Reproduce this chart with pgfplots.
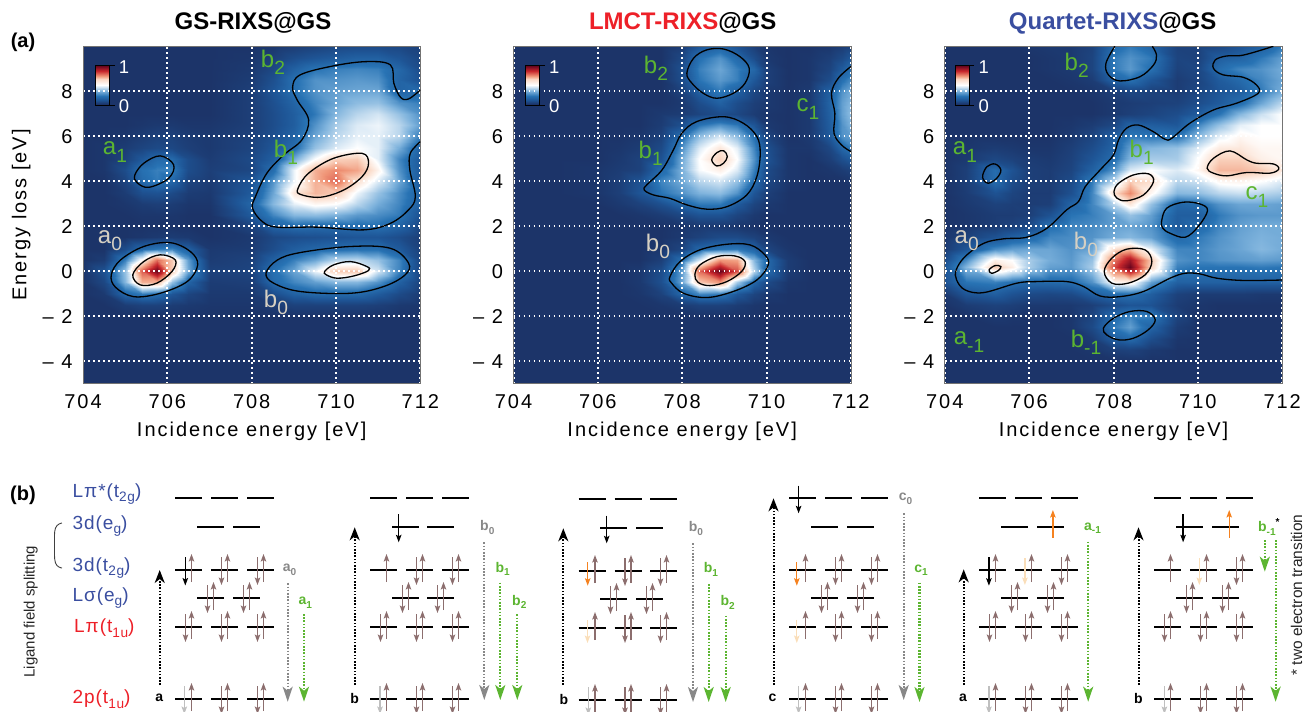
\documentclass[border=0pt]{standalone}
\usepackage{pgfplots}
\usepackage{pgfplotstable}
\usepackage{fontspec}
\pgfplotsset{compat=1.18}
\usetikzlibrary{arrows.meta}
\setmainfont{Liberation Sans}
\newfontfamily\ls[LetterSpace=10]{Liberation Sans}
\newfontfamily\lsb[LetterSpace=5]{Liberation Sans}
\newcommand\tk{\ls\fontsize{20}{22}\selectfont}
\newcommand\sbs[1]{\raisebox{-.3em}{\scalebox{.8}{#1}}}
\definecolor{cblue}{RGB}{58,78,160}
\definecolor{cred}{RGB}{237,32,40}
\definecolor{cgreen}{RGB}{92,181,49}
\definecolor{cbeige}{RGB}{214,208,195}
\definecolor{brownar}{RGB}{140,110,110}
\definecolor{cgray}{RGB}{136,136,136}
\definecolor{corange}{RGB}{245,130,32}
\definecolor{cpale}{RGB}{250,222,185}

\pgfplotstableread{
y 704 704.5 705 705.4 705.75 706.1 706.5 707 708 708.5 709 709.5 710 710.5 711 711.5 712
10 3 3 3 3 3 3 3 3 3 4 6 8 10 11 11 10 8
9.5 3 3 3 3 3 3 3 3 4 7 12 15 17 19 19 15 10
9 3 3 3 3 3 3 3 3 5 10 19 25 27 28 27 21 12
8.5 3 3 3 3 3 3 3 3 6 13 24 30 30 31 30 20 14
8 3 3 3 3 3 3 3 3 7 15 24 30 32 33 33 20 22
7.5 3 3 3 3 3 3 3 3 7 13 20 28 33 37 38 30 27
7 3 3 3 3 3 3 3 3 7 12 18 26 36 42 45 38 30
6.5 3 3 3 4 5 5 4 4 7 12 18 30 40 46 48 42 32
6 3 3 4 6 8 8 6 5 8 13 20 33 42 47 47 42 27
5.5 3 4 6 9 11 10 7 5 9 15 23 38 46 50 47 34 19
5 3 4 8 16 22 22 12 6 11 18 34 50 61 62 47 28 17
4.5 3 4 12 24 27 27 12 7 10 23 48 66 72 68 53 30 17
4 3 3 9 22 26 21 9 6 15 30 48 66 76 58 46 33 17
3.5 3 3 6 13 14 11 6 5 17 33 56 65 62 48 38 29 19
3 3 3 4 6 7 6 4 4 21 36 47 52 50 42 34 28 19
2.5 3 3 3 4 4 4 3 3 17 28 36 37 35 31 29 26 14
2 3 3 3 3 3 3 3 3 9 20 23 22 22 23 24 20 10
1.5 3 3 3 4 5 6 5 3 5 10 12 13 14 15 15 12 7
1 3 3 12 22 26 28 19 5 6 12 18 21 23 24 24 17 8
0.5 3 6 27 52 76 62 32 6 8 19 27 33 42 43 38 28 10
0 4 14 38 78 100 62 34 8 9 24 33 48 62 63 45 28 10
-0.5 3 10 36 66 66 38 20 6 7 22 28 32 36 36 30 19 9
-1 3 5 21 26 23 15 9 5 5 12 19 22 22 22 17 11 6
-1.5 3 3 6 8 8 6 5 4 4 6 8 8 8 8 7 5 4
-2 3 3 3 3 3 3 3 3 3 3 3 3 3 3 3 3 3
-2.5 3 3 3 3 3 3 3 3 3 3 3 3 3 3 3 3 3
-3 3 3 3 3 3 3 3 3 3 3 3 3 3 3 3 3 3
-3.5 3 3 3 3 3 3 3 3 3 3 3 3 3 3 3 3 3
-4 3 3 3 3 3 3 3 3 3 3 3 3 3 3 3 3 3
-4.5 3 3 3 3 3 3 3 3 3 3 3 3 3 3 3 3 3
-5 3 3 3 3 3 3 3 3 3 3 3 3 3 3 3 3 3
}\gridA
\pgfplotstableread{
y 704 705 706 706.5 707 707.5 708 708.4 708.9 709.3 709.7 710 710.5 711 711.5 711.8 712
10 3 3 3 3 3 3 6 15 20 14 7 4 3 3 4 6 8
9.5 3 3 3 3 3 3 10 24 30 22 12 5 3 4 7 11 16
9 3 3 3 3 3 3 13 27 33 27 21 7 3 4 9 17 24
8.5 3 3 3 3 3 3 12 25 31 27 16 7 3 4 12 24 29
8 3 3 3 3 3 3 8 19 26 19 10 5 3 5 19 30 34
7.5 3 3 3 3 3 3 5 12 19 12 7 5 3 5 20 32 36
7 3 3 3 3 3 5 6 9 12 10 6 4 3 5 19 32 37
6.5 3 3 3 3 3 6 13 25 30 26 15 5 3 5 18 30 35
6 3 3 3 3 4 8 23 37 45 37 24 9 3 5 17 30 32
5.5 3 3 3 4 6 11 30 46 56 47 28 13 4 4 10 21 26
5 3 3 3 5 8 14 34 50 61 50 30 14 4 3 7 13 17
4.5 3 3 4 6 8 22 35 49 54 46 27 11 4 3 4 6 8
4 3 3 4 7 14 28 34 42 45 38 23 10 4 3 3 3 4
3.5 3 3 4 7 15 25 30 35 37 30 15 7 3 3 3 3 3
3 3 3 3 5 8 13 21 26 26 17 9 5 3 3 3 3 3
2.5 3 3 3 3 4 6 10 14 14 9 5 3 3 3 3 3 3
2 3 3 3 3 3 3 4 5 5 4 3 3 3 3 3 3 3
1.5 3 3 3 3 3 3 5 8 11 11 8 5 3 3 3 3 3
1 3 3 3 3 3 4 9 21 25 26 20 9 4 3 3 3 3
0.5 3 3 3 3 3 7 24 45 70 68 36 22 6 3 3 3 3
0 3 3 3 3 5 12 32 76 100 80 42 22 6 3 3 3 3
-0.5 3 3 3 3 5 13 33 62 70 40 21 11 4 3 3 3 3
-1 3 3 3 3 4 8 21 28 26 16 9 5 3 3 3 3 3
-1.5 3 3 3 3 3 4 6 8 8 6 4 3 3 3 3 3 3
-2 3 3 3 3 3 3 3 3 3 3 3 3 3 3 3 3 3
-2.5 3 3 3 3 3 3 3 3 3 3 3 3 3 3 3 3 3
-3 3 3 3 3 3 3 3 3 3 3 3 3 3 3 3 3 3
-3.5 3 3 3 3 3 3 3 3 3 3 3 3 3 3 3 3 3
-4 3 3 3 3 3 3 3 3 3 3 3 3 3 3 3 3 3
-4.5 3 3 3 3 3 3 3 3 3 3 3 3 3 3 3 3 3
-5 3 3 3 3 3 3 3 3 3 3 3 3 3 3 3 3 3
}\gridB
\pgfplotstableread{
y 704 704.5 705.2 705.6 706 706.5 707 707.5 708 708.4 708.9 709.5 710 710.5 711 711.5 712
10 3 3 3 3 4 5 5 8 22 26 20 8 8 10 14 18 26
9.5 3 3 3 3 3 4 5 9 26 30 26 9 8 18 20 26 32
9 3 3 3 3 3 4 5 9 26 31 24 8 10 23 28 30 34
8.5 3 3 3 3 3 3 4 6 20 24 15 6 9 17 22 28 33
8 3 3 3 3 3 3 3 4 7 10 8 6 10 15 18 26 34
7.5 3 3 3 3 3 3 3 3 5 6 7 8 12 17 23 33 42
7 3 3 3 3 3 3 3 3 5 7 9 12 17 25 36 44 50
6.5 3 3 3 3 3 3 4 6 10 20 18 16 28 38 47 50 50
6 3 3 3 3 3 3 5 9 18 26 25 24 36 47 52 50 50
5.5 3 4 6 5 4 4 7 12 20 32 36 38 46 55 56 52 52
5 3 5 10 8 6 5 8 15 23 36 40 40 50 61 61 54 52
4.5 3 7 23 14 7 6 9 19 30 46 50 46 52 65 65 62 56
4 3 7 23 12 7 6 11 26 42 62 58 42 44 52 53 50 46
3.5 3 6 14 9 6 6 13 28 58 72 52 36 37 42 44 42 40
3 3 5 8 7 6 7 20 28 42 56 38 21 23 30 33 33 32
2.5 3 4 6 6 7 14 25 27 32 38 32 18 18 26 30 31 31
2 3 4 6 8 11 24 28 29 32 33 30 17 22 28 32 34 34
1.5 4 8 14 19 22 28 29 30 34 36 32 22 26 30 33 35 34
1 6 15 29 32 33 33 30 33 58 64 48 28 28 31 33 36 34
0.5 12 29 54 50 40 34 31 38 74 92 62 30 28 30 31 32 31
0.2 16 36 62 54 40 32 31 40 80 100 60 27 25 25 25 26 25
-0.5 14 25 27 24 22 22 23 30 52 54 32 19 19 19 19 19 19
-1 5 15 18 14 11 10 11 18 23 24 18 8 6 6 6 5 5
-1.5 3 6 8 7 5 5 5 7 12 15 14 6 4 3 3 3 3
-2 3 3 5 4 3 3 4 9 22 28 27 9 3 3 3 3 3
-2.5 3 3 3 3 3 3 4 11 26 32 20 6 3 3 3 3 3
-3 3 3 3 3 3 3 3 6 18 22 12 4 3 3 3 3 3
-3.5 3 3 3 3 3 3 3 4 7 8 5 3 3 3 3 3 3
-4 3 3 3 3 3 3 3 3 3 3 3 3 3 3 3 3 3
-4.5 3 3 3 3 3 3 3 3 3 3 3 3 3 3 3 3 3
-5 3 3 3 3 3 3 3 3 3 3 3 3 3 3 3 3 3
}\gridC

% long-form coordinate lists built from the small tables above
\newcommand{\makesurf}[3]{%
  \gdef#2{}%
  \foreach \r in {0,...,30}{%
    \pgfplotstablegetelem{\r}{[index]0}\of{#1}\let\yy\pgfplotsretval
    \foreach \xx [count=\c] in {#3}{%
      \pgfplotstablegetelem{\r}{[index]\c}\of{#1}\let\zz\pgfplotsretval
      \xdef#2{#2 (\xx,\yy,\zz)}%
    }%
  }%
}
\makesurf{\gridA}{\listA}{704,704.5,705,705.4,705.75,706.1,706.5,707,708,708.5,709,709.5,710,710.5,711,711.5,712}
\makesurf{\gridB}{\listB}{704,705,706,706.5,707,707.5,708,708.4,708.9,709.3,709.7,710,710.5,711,711.5,711.8,712}
\makesurf{\gridC}{\listC}{704,704.5,705.2,705.6,706,706.5,707,707.5,708,708.4,708.9,709.5,710,710.5,711,711.5,712}

% level positions in panel (b): left end of each bar, and row
\pgfplotstableread[row sep=\\]{x y\\
175 570\\211 570\\247 570\\197 598\\233 598\\175 627\\211 627\\247 627\\175 699\\211 699\\247 699\\
370 570\\406 570\\442 570\\392 598\\427 598\\370 627\\406 627\\442 627\\370 699\\406 699\\442 699\\
578.5 571\\614.5 571\\650 571\\600 599\\636 599\\578.5 628\\614.5 628\\650 628\\578.5 700\\614.5 700\\650 700\\
789 570\\825 570\\861 570\\811 598\\847 598\\789 627\\825 627\\861 627\\789 699\\825 699\\861 699\\
979 570\\1015 570\\1051 570\\1001 598\\1037 598\\979 627\\1015 627\\1051 627\\979 699\\1015 699\\1051 699\\
1154 570\\1190 570\\1226 570\\1176 598\\1212 598\\1154 627\\1190 627\\1226 627\\1154 699\\1190 699\\1226 699\\
}\occ
\pgfplotstableread[row sep=\\]{x y\\
175 498\\211 498\\247 498\\197 527\\233 527\\
370 498\\406 498\\442 498\\392 527\\427 527\\
578.5 499\\614.5 499\\650 499\\600 528\\636 528\\
789 498\\825 498\\861 498\\811 527\\847 527\\
979 498\\1015 498\\1051 498\\1001 527\\1037 527\\
1154 498\\1190 498\\1226 498\\1176 527\\1212 527\\
}\emp
\pgfplotstableread[row sep=\\]{x y\\
211 570\\247 570\\197 598\\233 598\\175 627\\211 627\\247 627\\211 699\\247 699\\
406 570\\442 570\\392 598\\427 598\\370 627\\406 627\\442 627\\406 699\\442 699\\
614.5 571\\650 571\\600 599\\636 599\\614.5 628\\650 628\\614.5 700\\650 700\\
825 570\\861 570\\811 598\\847 598\\825 627\\861 627\\825 699\\861 699\\
1051 570\\1001 598\\1037 598\\979 627\\1015 627\\1051 627\\1015 699\\1051 699\\
1226 570\\1176 598\\1212 598\\1154 627\\1190 627\\1226 627\\1190 699\\1226 699\\
}\dwn

\pgfplotsset{
  colormap={rb}{rgb255(0)=(22,40,90) rgb255(3)=(28,52,105) rgb255(15)=(30,85,150) rgb255(25)=(40,115,180) rgb255(35)=(125,178,220) rgb255(50)=(255,255,255) rgb255(60)=(250,215,195) rgb255(70)=(240,150,120) rgb255(85)=(200,40,45) rgb255(100)=(105,5,30)},
  heatax/.style={width=337.4pt,height=337.4pt,scale only axis,hide axis,view={0}{90},
    xmin=704,xmax=712,ymin=-5,ymax=10,point meta min=0,point meta max=100},
  heat/.style={surf,shader=interp,mesh/cols=17,point meta=z},
  lineax/.style={width=337.4pt,height=337.4pt,scale only axis,xmin=704,xmax=712,ymin=-5,ymax=10,
    xtick={704,706,708,710,712},xticklabels={704,706,708,710,712},
    ytick={-4,-2,0,2,4,6,8},yticklabels={{– 4},{– 2},0,2,4,6,8},
    major tick length=0pt,
    tick label style={font=\tk},
    xticklabel style={yshift=-7pt},
    yticklabel style={xshift=-7pt},
    grid=major,major grid style={white,line width=2pt,dash pattern=on 1.8pt off 3.2pt},
    axis line style={draw=black!55,line width=.8pt},
    xlabel={Incidence energy [eV]},
    xlabel style={font=\tk,at={(axis description cs:0.5,-0.14)},anchor=center},
    ylabel style={font=\tk,at={(axis description cs:-0.183,0.5)},anchor=center},
  },
  ctr/.style={black,line width=1.3pt,smooth cycle,tension=0.6},
  opn/.style={black,line width=1.3pt,smooth,tension=0.6},
  exc/.style={black,line width=2pt,dash pattern=on 1.6pt off 1.6pt,-{Stealth[length=13pt,width=10pt,inset=4pt]}},
  emgray/.style={cgray,line width=2pt,dash pattern=on 1.6pt off 1.6pt,-{Stealth[length=15pt,width=10pt,inset=4pt]}},
  emgreen/.style={cgreen,line width=2.2pt,dash pattern=on 1.6pt off 1.6pt,-{Stealth[length=15pt,width=10pt,inset=4pt]}},
  elec/.style={line width=1.25pt,-{Stealth[length=7.5pt,width=5.5pt,inset=1.5pt]}},
}
\newcommand\cbsurf[2]{\addplot3[surf,shader=interp,mesh/cols=2,point meta=z] coordinates {
 (#1,9.14,100)(#2,9.14,100) (#1,8.92,85)(#2,8.92,85) (#1,8.70,70)(#2,8.70,70) (#1,8.55,60)(#2,8.55,60)
 (#1,8.27,50)(#2,8.27,50) (#1,8.00,35)(#2,8.00,35) (#1,7.80,25)(#2,7.80,25) (#1,7.60,15)(#2,7.60,15) (#1,7.39,0)(#2,7.39,0)};}
\newcommand\cbframe[3]{%
 \addplot[black,line width=.7pt] coordinates {(#3,65.7)(#1,65.7)(#1,105)(#3,105)};
 \addplot[black,line width=.7pt] coordinates {(#2,65.7)(#2,105)};}
\newcommand\lbl[4]{\node[text=#3,font=\fontsize{24}{26}\selectfont,inner sep=0pt] at (axis cs:#1,#2) {#4};}
\newcommand\blb[4]{\node[text=#3,font=\bfseries\fontsize{14}{16}\selectfont,inner sep=0pt] at (axis cs:#1,#2) {#4};}
\newcommand\lft[4]{\node[text=#3,font=\lsb\fontsize{19}{21}\selectfont,inner sep=0pt,anchor=west] at (axis cs:#1,#2) {#4};}
\newcommand\ssb[1]{\raisebox{-.25em}{\scalebox{.72}{#1}}}

\begin{document}
\begin{tikzpicture}[x=1pt,y=1pt]
\useasboundingbox (0pt,0pt) rectangle (1304pt,-712pt);

% ---------- panel 1
\begin{axis}[heatax,at={(83pt,-383.7pt)},anchor=south west]
\edef\tmp{\noexpand\addplot3[heat] coordinates {\listA};}\tmp
\cbsurf{704.30}{704.62}
\end{axis}
\begin{axis}[lineax,at={(83pt,-383.7pt)},anchor=south west,ylabel={Energy  loss [eV]}]
\addplot[opn] coordinates {(712,8.06)(711.72,7.66)(711.53,7.73)(711.37,8.36)(711.29,9.17)(710.73,9.32)(709.94,9.13)(709.15,8.73)(708.97,8.18)(709.08,7.61)(709.35,6.73)(709.19,5.84)(708.76,5.17)(708.36,4.36)(708.09,3.32)(708.02,2.8)(708.25,2.21)(708.6,1.96)(709.55,1.96)(710.66,1.84)(711.29,2.13)(711.72,2.73)(711.88,3.32)(711.75,4.5)(711.76,5.24)(712,5.76)};
\addplot[ctr] coordinates {(709.1,3.69)(709.35,4.36)(709.94,5.02)(710.62,5.24)(710.77,4.8)(710.62,4.21)(710.18,3.61)(709.63,3.29)(709.15,3.42)};
\addplot[ctr] coordinates {(705.23,4.28)(705.44,4.8)(705.83,5.13)(706.15,4.73)(706.03,4.13)(705.56,3.73)(705.28,3.94)};
\addplot[ctr] coordinates {(704.67,-.16)(704.89,.5)(705.44,1.1)(706.07,1.27)(706.55,.87)(706.72,.28)(706.47,-.46)(705.83,-.98)(705.2,-1.13)(704.77,-.71)};
\addplot[ctr] coordinates {(705.18,-.16)(705.44,.43)(705.83,.73)(706.19,.5)(706.11,-.01)(705.75,-.53)(705.36,-.61)};
\addplot[ctr] coordinates {(708.34,-.09)(708.61,.5)(709.15,.83)(710.34,1.1)(711.29,1.02)(711.72,.36)(711.64,-.16)(711.13,-.68)(710.34,-.98)(709.15,-.9)(708.52,-.53)};
\addplot[ctr] coordinates {(709.73,-.01)(709.94,.28)(710.34,.43)(710.73,.21)(710.77,.03)(710.42,-.21)(710.02,-.31)(709.77,-.16)};
\end{axis}

% ---------- panel 2
\begin{axis}[heatax,at={(513.5pt,-383.7pt)},anchor=south west]
\edef\tmp{\noexpand\addplot3[heat] coordinates {\listB};}\tmp
\cbsurf{704.28}{704.61}
\end{axis}
\begin{axis}[lineax,at={(513.5pt,-383.7pt)},anchor=south west]
\addplot[ctr] coordinates {(708.11,8.8)(708.27,9.47)(708.58,9.84)(708.98,9.88)(709.37,9.54)(709.59,9.02)(709.49,8.36)(709.21,7.91)(708.82,7.69)(708.5,7.91)(708.23,8.36)};
\addplot[opn] coordinates {(712,9.1)(711.7,8.58)(711.54,7.91)(711.62,7.02)(711.6,6.13)(711.78,5.61)(712,5.32)};
\addplot[ctr] coordinates {(707.1,3.61)(707.16,3.84)(707.52,4.5)(707.79,5.39)(707.99,6.13)(708.34,6.65)(708.98,6.87)(709.45,6.58)(709.77,5.99)(709.85,5.24)(709.77,4.21)(709.53,3.39)(709.06,2.87)(708.58,2.76)(708.11,2.95)(707.71,3.24)(707.32,3.39)};
\addplot[ctr] coordinates {(708.7,4.95)(708.82,5.27)(708.98,5.36)(709.07,5.1)(708.98,4.8)(708.82,4.68)};
\addplot[ctr] coordinates {(707.71,-.24)(707.95,.43)(708.42,.95)(709.06,1.2)(709.61,1.17)(709.96,.73)(710.04,.28)(709.77,-.39)(709.21,-.9)(708.58,-1.17)(708.03,-.98)(707.75,-.53)};
\addplot[ctr] coordinates {(708.3,-.16)(708.42,.28)(708.82,.65)(709.25,.68)(709.49,.43)(709.41,-.01)(709.06,-.46)(708.66,-.64)(708.38,-.5)};
\end{axis}

% ---------- panel 3
\begin{axis}[heatax,at={(944.8pt,-383.7pt)},anchor=south west]
\edef\tmp{\noexpand\addplot3[heat] coordinates {\listC};}\tmp
\cbsurf{704.24}{704.58}
\end{axis}
\begin{axis}[lineax,at={(944.8pt,-383.7pt)},anchor=south west]
\addplot[opn] coordinates {(712,-.39)(711.08,-.41)(710.45,-.31)(710.05,-.12)(709.7,-.09)(709.34,-.31)(708.71,-.9)(708.15,-1.13)(707.68,-1.1)(707.29,-.68)(706.89,-.46)(706.18,-.46)(705.71,-.53)(704.92,-.95)(704.48,-.83)(704.28,-.39)(704.27,.06)(704.48,.65)(704.92,1.24)(705.39,1.44)(705.94,1.51)(706.42,1.91)(706.89,2.73)(707.17,3.1)(707.33,3.76)(707.68,4.5)(708,5.17)(708.12,5.84)(708.31,6.36)(708.59,6.5)(708.94,6.21)(709.22,5.87)(709.38,5.91)(709.81,6.58)(710.37,7.17)(710.92,7.47)(711.43,7.91)(711.39,8.28)(711.08,8.62)(710.6,8.73)(710.37,9.02)(710.41,9.39)(710.68,9.57)(711.08,9.61)(711.79,10)};
\addplot[ctr] coordinates {(704.9,4.28)(705,4.65)(705.19,4.77)(705.33,4.5)(705.23,4.13)(705.03,3.91)(704.92,4.06)};
\addplot[opn] coordinates {(708.03,10)(707.82,9.24)(707.88,8.73)(708.15,8.46)(708.63,8.65)(708.95,9.17)(709.02,9.61)(708.92,10)};
\addplot[ctr] coordinates {(710.22,4.58)(710.37,5.02)(710.76,5.35)(711.16,4.95)(711.39,4.8)(711.79,4.77)(711.92,4.55)(711.71,4.36)(711.16,4.39)(710.69,4.24)(710.37,4.36)};
\addplot[ctr] coordinates {(708.01,3.54)(708.12,3.91)(708.47,4.28)(708.83,4.33)(708.95,3.99)(708.71,3.39)(708.31,3.13)(708.08,3.25)};
\addplot[ctr] coordinates {(709.14,2.21)(709.26,2.8)(709.66,3.07)(710.05,2.99)(710.23,2.7)(710.01,1.99)(709.7,1.51)(709.34,1.69)(709.17,1.91)};
\addplot[ctr] coordinates {(707.78,-.01)(707.96,.58)(708.31,.98)(708.75,.95)(708.91,.43)(708.75,-.16)(708.35,-.53)(707.96,-.53)};
\addplot[ctr] coordinates {(705.05,.06)(705.19,.25)(705.33,.21)(705.27,.03)(705.11,-.09)};
\addplot[ctr] coordinates {(707.76,-2.53)(708,-2.09)(708.39,-1.79)(708.79,-1.79)(708.99,-2.16)(708.82,-2.61)(708.47,-2.98)(708.12,-3.05)(707.84,-2.83)};
\end{axis}

% ---------- page overlay, in pixel coordinates of the figure
\begin{axis}[at={(0pt,-712pt)},anchor=south west,width=1304pt,height=712pt,scale only axis,hide axis,
  xmin=0,xmax=1304,ymin=0,ymax=712,y dir=reverse]
\cbframe{95.7}{109}{115}
\cbframe{525}{539}{545}
\cbframe{955}{969}{974}

% energy levels
\addplot[black,line width=1.7pt,quiver={u=27,v=0}] table[x=x,y=y] {\occ};
\addplot[black,line width=1.7pt,quiver={u=27,v=0}] table[x=x,y=y] {\emp};
% paired electrons
\addplot[brownar,elec,quiver={u=0,v=-28}] table[x expr=\thisrow{x}+16.5,y expr=\thisrow{y}+12] {\occ};
\addplot[brownar,elec,quiver={u=0,v=28}] table[x expr=\thisrow{x}+10.5,y expr=\thisrow{y}-13] {\dwn};
% special electrons
\addplot[black,elec] coordinates {(185.3,557)(185.3,585.5)};
\addplot[black,elec] coordinates {(398.7,514.3)(398.7,542.3)};
\addplot[black,elec] coordinates {(606.7,515.7)(606.7,543.3)};
\addplot[black,elec] coordinates {(798.6,485.7)(798.6,513.3)};
\addplot[black,elec] coordinates {(988.9,557.3)(988.9,585.7)};
\addplot[black,elec] coordinates {(1183.1,514.3)(1183.1,542.3)};
\addplot[corange,elec] coordinates {(587.7,562.3)(587.7,585.7)};
\addplot[corange,elec] coordinates {(796.8,562.3)(796.8,585.7)};
\addplot[cpale,elec] coordinates {(587.5,620)(587.5,643)};
\addplot[cpale,elec] coordinates {(796.8,619.5)(796.8,643)};
\addplot[cpale,elec] coordinates {(1024.9,558)(1024.9,585)};
\addplot[cpale,elec] coordinates {(1199.3,558)(1199.3,585)};
\addplot[corange,elec] coordinates {(1052.9,537.7)(1052.9,510)};
\addplot[corange,elec] coordinates {(1229.2,537.7)(1229.2,510)};
\addplot[black!25,elec] coordinates {(184.3,686)(184.3,714)};
\addplot[black!25,elec] coordinates {(380,686)(380,714)};
\addplot[black!25,elec] coordinates {(588.3,687)(588.3,715)};
\addplot[black!25,elec] coordinates {(798.6,686)(798.6,714)};
\addplot[black!25,elec] coordinates {(988.9,686)(988.9,714)};
\addplot[black!25,elec] coordinates {(1164.4,686)(1164.4,714)};
% excitation
\addplot[exc] coordinates {(159.7,685)(159.7,570)};
\addplot[exc] coordinates {(354.7,685)(354.7,527.3)};
\addplot[exc] coordinates {(563.3,685)(563.3,528.3)};
\addplot[exc] coordinates {(773.5,685)(773.5,498.3)};
\addplot[exc] coordinates {(963.7,685)(963.7,569.3)};
\addplot[exc] coordinates {(1138.5,685)(1138.5,527.3)};
% emission
\addplot[emgray] coordinates {(287.7,583.3)(287.7,701.7)};
\addplot[emgreen] coordinates {(304,614)(304,701.7)};
\addplot[emgray] coordinates {(484.3,542.3)(484.3,700)};
\addplot[emgreen] coordinates {(500.3,582.7)(500.3,700)};
\addplot[emgreen] coordinates {(517.3,614.3)(517.3,700)};
\addplot[emgray] coordinates {(693,543.3)(693,702)};
\addplot[emgreen] coordinates {(708.7,584)(708.7,702)};
\addplot[emgreen] coordinates {(725.7,615.7)(725.7,702)};
\addplot[emgray] coordinates {(903.7,513.3)(903.7,700)};
\addplot[emgreen] coordinates {(919.5,582.7)(919.5,702)};
\addplot[emgreen] coordinates {(1088.2,541.7)(1088.2,701.7)};
\addplot[emgreen] coordinates {(1264.8,540)(1264.8,571.7)};
\addplot[emgreen] coordinates {(1275.6,540)(1275.6,701.7)};
% bracket
\addplot[black!75,line width=.9pt,smooth,tension=.7] coordinates {(62,523)(55.5,528)(54.5,545)(55.5,563)(62,568)};

% titles
\node[font=\bfseries\fontsize{24}{26}\selectfont,inner sep=0pt] at (axis cs:253,23) {GS-RIXS@GS};
\node[font=\bfseries\fontsize{24}{26}\selectfont,inner sep=0pt] at (axis cs:682.7,23) {\textcolor{cred}{LMCT-RIXS}@GS};
\node[font=\bfseries\fontsize{24}{26}\selectfont,inner sep=0pt] at (axis cs:1112.7,23) {\textcolor{cblue}{Quartet-RIXS}@GS};
\node[font=\bfseries\fontsize{20}{22}\selectfont,inner sep=0pt] at (axis cs:23,42) {(a)};
\node[font=\bfseries\fontsize{20}{22}\selectfont,inner sep=0pt] at (axis cs:23,495) {(b)};
% colour bar numbers
\foreach \xp in {124,554.3,983.7}{
 \edef\tmpn{\noexpand\node[text=white,font=\noexpand\fontsize{18.5}{20}\noexpand\selectfont,inner sep=0pt] at (axis cs:\xp,66.7) {1};
 \noexpand\node[text=white,font=\noexpand\fontsize{18.5}{20}\noexpand\selectfont,inner sep=0pt] at (axis cs:\xp,105.7) {0};}\tmpn}
% peak labels
\lbl{115}{152}{cgreen}{a\sbs{1}}
\lbl{110}{241}{cbeige}{a\sbs{0}}
\lbl{273}{62}{cgreen}{b\sbs{2}}
\lbl{286}{152}{cgreen}{b\sbs{1}}
\lbl{276}{302}{cbeige}{b\sbs{0}}
\lbl{656}{68}{cgreen}{b\sbs{2}}
\lbl{650.7}{153}{cgreen}{b\sbs{1}}
\lbl{658}{246}{cbeige}{b\sbs{0}}
\lbl{808}{109}{cgreen}{c\sbs{1}}
\lbl{1076.7}{65}{cgreen}{b\sbs{2}}
\lbl{965}{152}{cgreen}{a\sbs{1}}
\lbl{1141.7}{152}{cgreen}{b\sbs{1}}
\lbl{966.7}{241}{cbeige}{a\sbs{0}}
\lbl{1086}{244}{cbeige}{b\sbs{0}}
\lbl{1257}{197}{cgreen}{c\sbs{1}}
\lbl{969}{342}{cgreen}{a\sbs{-1}}
\lbl{1086}{342}{cgreen}{b\sbs{-1}}
% level names
\lft{72.5}{494}{cblue}{Lπ*(t\ssb{2g})}
\lft{72.5}{526}{cblue}{3d(e\ssb{g})}
\lft{72.5}{568}{cblue}{3d(t\ssb{2g})}
\lft{72.5}{598}{cblue}{Lσ(e\ssb{g})}
\lft{74}{628}{cred}{Lπ(t\ssb{1u})}
\lft{72.5}{699}{cred}{2p(t\ssb{1u})}
\node[rotate=90,font=\fontsize{15}{17}\selectfont,inner sep=0pt,text=black!85] at (axis cs:30.7,611.7) {Ligand field splitting};
\node[rotate=90,font=\fontsize{15.5}{17}\selectfont,inner sep=0pt,text=black!85] at (axis cs:1296.5,595) {* two electron transition};
% transition labels
\blb{159.3}{698}{black}{a}
\blb{354.7}{698}{black}{b}
\blb{564}{699}{black}{b}
\blb{772.4}{698}{black}{c}
\blb{963}{698}{black}{a}
\blb{1138.5}{698}{black}{b}
\blb{289.5}{570}{cgray}{a\ssb{0}}
\blb{305.3}{602.7}{cgreen}{a\ssb{1}}
\blb{487.3}{527.3}{cgray}{b\ssb{0}}
\blb{502.7}{568.7}{cgreen}{b\ssb{1}}
\blb{519.3}{601.7}{cgreen}{b\ssb{2}}
\blb{696}{528.3}{cgray}{b\ssb{0}}
\blb{711}{569.3}{cgreen}{b\ssb{1}}
\blb{727.7}{602.3}{cgreen}{b\ssb{2}}
\blb{905.5}{499}{cgray}{c\ssb{0}}
\blb{921}{570}{cgreen}{c\ssb{1}}
\blb{1092.5}{528.3}{cgreen}{a\ssb{-1}}
\blb{1268.8}{527}{cgreen}{b\ssb{-1}\raisebox{.45em}{\textcolor{black}{\scalebox{.72}{*}}}}
\end{axis}
\end{tikzpicture}
\end{document}
